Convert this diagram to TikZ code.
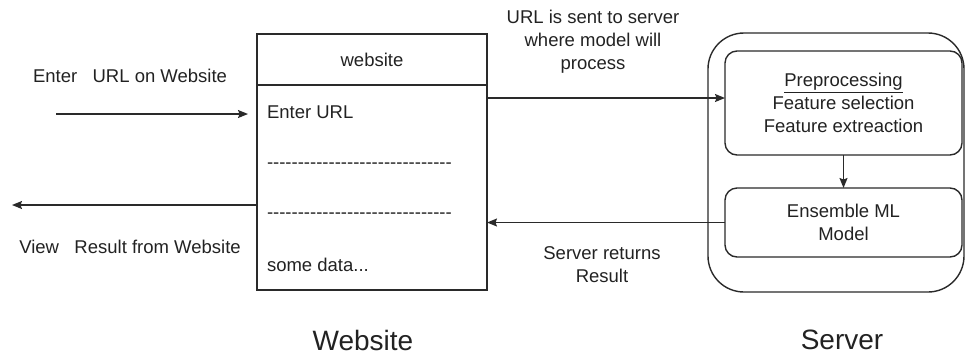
\documentclass[tikz,border=0pt]{standalone}
\usepackage{fontspec}
\setmainfont{Liberation Sans}[Ligatures=TeXOff]
\usetikzlibrary{arrows.meta}
\definecolor{ink}{HTML}{222222}
\definecolor{linec}{HTML}{2A2A2A}
\begin{document}
\begin{tikzpicture}[x=1pt,y=-1pt,
  every node/.style={inner sep=0pt,outer sep=0pt,text=ink,font=\fontsize{18.5}{23}\selectfont},
  box/.style={draw=linec,line width=1.4pt,rectangle},
  rbox/.style={draw=linec,line width=1.4pt,rectangle,rounded corners=12pt},
  arr/.style={draw=linec,line width=1.3pt,-{Stealth[length=10pt,width=8pt,inset=1.5pt]}},
  big/.style={font=\fontsize{28}{32}\selectfont}]
\useasboundingbox (0,0) rectangle (966,357);
% Website
\node[box,minimum width=230pt,minimum height=51pt] (webhead) at (372,59.5) {website};
\node[box,minimum width=230pt,minimum height=205pt,anchor=north] (webbody) at (webhead.south) {};
\node[anchor=west] (t1) at (267,112) {Enter URL};
\node[anchor=west] (t2) at (267,166) {------------------------------};
\node[anchor=west] (t3) at (267,216) {------------------------------};
\node[anchor=west] (t4) at (267,265) {some data...};
% Server
\node[draw=linec,line width=1.4pt,rounded corners=36pt,minimum width=256pt,minimum height=259pt] (server) at (836,162.5) {};
\node[rbox,minimum width=237pt,minimum height=104pt,align=center] (pre) at (843.5,103) {\underline{Preprocessing}\\Feature selection\\Feature extreaction};
\node[rbox,minimum width=237pt,minimum height=69pt,align=center] (ens) at (843.5,222.5) {Ensemble ML\\Model};
% connectors
\coordinate (in1) at (56,114);
\coordinate (out1) at (12,205);
\draw[arr,shorten >=9pt] (in1) -- (webbody.west |- in1);
\draw[arr] (webbody.west |- out1) -- (out1);
\draw[arr] ([yshift=5pt]webbody.east |- pre.west) -- ([yshift=5pt]pre.west);
\draw[arr] (ens.west) -- (webbody.east |- ens.west);
\draw[arr] (pre.south) -- (ens.north);
% labels
\node (l1) at (130,76) {Enter\ \ \ URL on Website};
\node (l2) at (130,247) {View\ \ \ Result from Website};
\node[align=center] (l3) at (593,42) {URL is sent to server\\where model will\\process};
\node[align=center] (l4) at (602,265) {Server returns\\Result};
\node[big] (l5) at (363,340) {Website};
\node[big] (l6) at (842,340) {Server};
\end{tikzpicture}
\end{document}
